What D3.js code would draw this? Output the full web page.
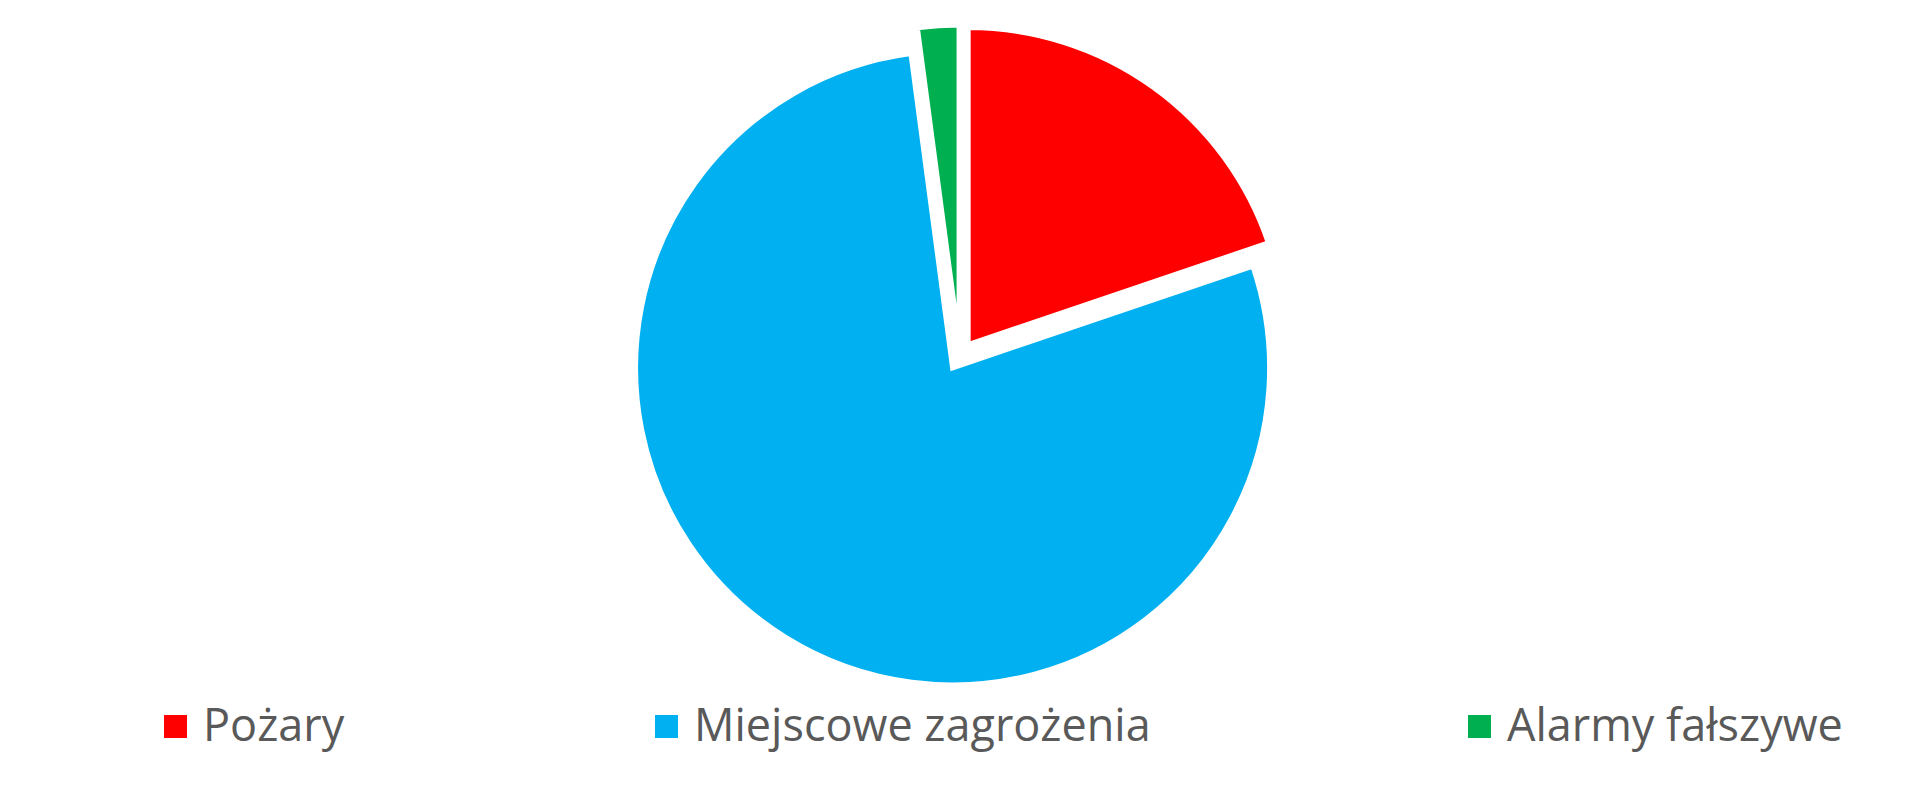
<!DOCTYPE html>
<html>
<head>
<meta charset="utf-8">
<script src="https://cdn.jsdelivr.net/npm/d3@7"></script>
<style>
  body { margin: 0; background: #fff; }
  svg { display: block; }
</style>
</head>
<body>
<svg width="1920" height="810"></svg>
<script>
// data (share of interventions)
const categories = ["Pożary", "Miejscowe zagrożenia", "Alarmy fałszywe"];
const values = [198, 781, 21];
const colors = ["#FF0000", "#00B0F0", "#00B050"];

const svg = d3.select("svg");
const width = +svg.attr("width");

const cx = 960, cy = 356;
const radius = 317;
const explode = 14;

const pie = d3.pie().sort(null).value(d => d.value);
const arc = d3.arc().innerRadius(0).outerRadius(radius);

const data = categories.map((c, i) => ({name: c, value: values[i], color: colors[i]}));

const g = svg.append("g")
    .attr("transform", "translate(" + cx + "," + cy + ")");

g.selectAll("path")
    .data(pie(data))
    .enter().append("path")
        .attr("d", arc)
        .attr("fill", d => d.data.color)
        .attr("stroke", "#fff")
        .attr("stroke-width", 5)
        .attr("stroke-linejoin", "miter")
        .attr("transform", d => {
            const mid = (d.startAngle + d.endAngle) / 2;
            return "translate(" + (explode * Math.sin(mid)) + "," + (-explode * Math.cos(mid)) + ")";
        });

// legend
const legendX = [164, 655, 1468];
const legend = svg.append("g").attr("class", "legend");

const items = legend.selectAll("g")
    .data(data)
    .enter().append("g")
        .attr("transform", (d, i) => "translate(" + legendX[i] + ",727)");

items.append("rect")
    .attr("x", 0).attr("y", -12)
    .attr("width", 23).attr("height", 23)
    .attr("fill", d => d.color);

items.append("text")
    .attr("x", 39).attr("y", 14)
    .attr("fill", "#595959")
    .style("font-family", "'Open Sans', sans-serif")
    .style("font-size", "45px")
    .text(d => d.name);
</script>
</body>
</html>
